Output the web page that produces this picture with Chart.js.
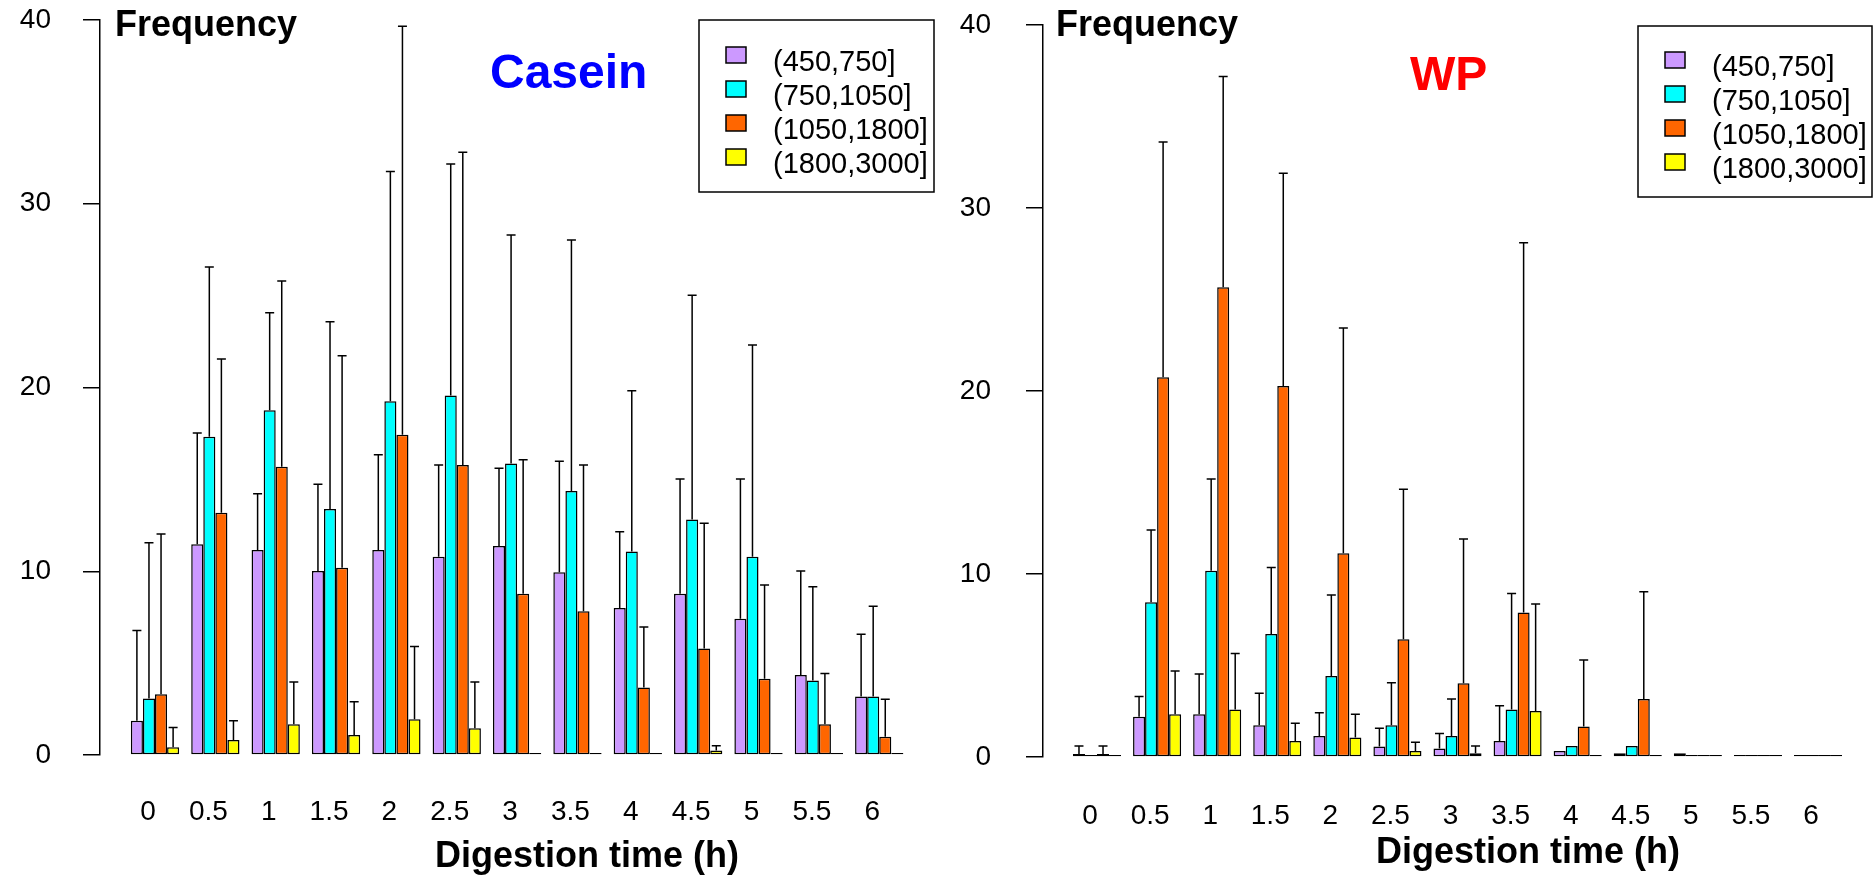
<!DOCTYPE html>
<html>
<head>
<meta charset="utf-8">
<title>Frequency by digestion time</title>
<script src="https://cdn.jsdelivr.net/npm/chart.js@4.4.0/dist/chart.umd.min.js"></script>
<style>
    html, body { margin: 0; padding: 0; background: #fff; }
    .panel { position: absolute; top: 0; width: 938px; height: 875px; }
    #left { left: 0; }
    #right { left: 938px; }
</style>
</head>
<body>
<div class="panel" id="left"><canvas id="caseinChart" width="938" height="875"></canvas></div>
<div class="panel" id="right"><canvas id="wpChart" width="938" height="875"></canvas></div>
<script>
const times = [0, 0.5, 1, 1.5, 2, 2.5, 3, 3.5, 4, 4.5, 5, 5.5, 6];
const timeLabels = ['0', '0.5', '1', '1.5', '2', '2.5', '3', '3.5', '4', '4.5', '5', '5.5', '6'];
const sizeClasses = ['(450,750]', '(750,1050]', '(1050,1800]', '(1800,3000]'];
const classColors = ['#cc99ff', '#00ffff', '#ff6600', '#ffff00'];

// Casein - mean frequency per size class
const casein450  = [1.87, 11.47, 11.16, 10.01, 11.16, 10.79, 11.37, 9.94, 8.0, 8.78, 7.42, 4.35, 3.19];
const casein750  = [3.08, 17.32, 18.76, 13.39, 19.25, 19.56, 15.87, 14.37, 11.07, 12.81, 10.79, 4.06, 3.19];
const casein1050 = [3.30, 13.19, 15.69, 10.19, 17.43, 15.78, 8.78, 7.82, 3.68, 5.79, 4.15, 1.67, 1.0];
const casein1800 = [0.42, 0.82, 1.67, 1.09, 1.94, 1.45, 0, 0, 0, 0.24, 0, 0, 0];
// Casein - top of error bars
const caseinTop450  = [6.77, 17.52, 14.22, 14.73, 16.34, 15.78, 15.6, 15.98, 12.15, 15.02, 15.02, 10.01, 6.57];
const caseinTop750  = [11.55, 26.56, 24.07, 23.58, 31.75, 32.16, 28.3, 28.03, 19.82, 25.02, 22.31, 9.16, 8.09];
const caseinTop1050 = [12.03, 21.55, 25.8, 21.73, 39.66, 32.8, 16.07, 15.78, 6.97, 12.61, 9.25, 4.44, 3.03];
const caseinTop1800 = [1.49, 1.87, 3.97, 2.90, 5.90, 3.97, null, null, null, 0.51, null, null, null];

// WP - mean frequency per size class
const wp450  = [0.16, 2.2, 2.33, 1.73, 1.15, 0.58, 0.47, 0.87, 0.33, 0.2, 0.2, 0, 0];
const wp750  = [0, 8.45, 10.18, 6.72, 4.43, 1.73, 1.15, 2.6, 0.6, 0.6, 0, 0, 0];
const wp1050 = [0.16, 20.75, 25.67, 20.27, 11.13, 6.43, 4.03, 7.89, 1.66, 3.17, 0, 0, 0];
const wp1800 = [0, 2.33, 2.6, 0.87, 1.07, 0.33, 0.2, 2.51, 0, 0, 0, 0, 0];
// WP - top of error bars
const wpTop450  = [0.6, 3.3, 4.54, 3.48, 2.42, 1.57, 1.29, 2.8, null, null, null, null, null];
const wpTop750  = [null, 12.4, 15.19, 10.36, 8.85, 4.06, 3.17, 8.94, null, null, null, null, null];
const wpTop1050 = [0.6, 33.6, 37.18, 31.9, 23.44, 14.63, 11.91, 28.1, 5.3, 9.03, null, null, null];
const wpTop1800 = [null, 4.7, 5.66, 1.84, 2.33, 0.8, 0.6, 8.36, null, null, null, null, null];

const FONT = "'Liberation Sans', Arial, Helvetica, sans-serif";

// error bars, titles and boxed legend
const panelDecor = {
    id: 'panelDecor',
    afterDatasetsDraw(chart) {
        const ctx = chart.ctx;
        const yScale = chart.scales.y;
        ctx.save();
        ctx.strokeStyle = '#000';
        ctx.lineWidth = 1.5;
        chart.data.datasets.forEach((ds, di) => {
            const meta = chart.getDatasetMeta(di);
            meta.data.forEach((bar, i) => {
                const top = ds.errTop[i];
                if (top === null || top === undefined) return;
                const yTop = yScale.getPixelForValue(top);
                ctx.beginPath();
                ctx.moveTo(bar.x, bar.y);
                ctx.lineTo(bar.x, yTop);
                ctx.moveTo(bar.x - 4.5, yTop);
                ctx.lineTo(bar.x + 4.5, yTop);
                ctx.stroke();
            });
        });
        ctx.restore();
    },
    afterDraw(chart, args, opts) {
        const ctx = chart.ctx;
        ctx.save();
        ctx.textBaseline = 'alphabetic';

        ctx.fillStyle = '#000';
        ctx.textAlign = 'left';
        ctx.font = 'bold 36px ' + FONT;
        ctx.fillText('Frequency', opts.freqX, opts.freqY);

        ctx.fillStyle = opts.titleColor;
        ctx.font = 'bold 48px ' + FONT;
        ctx.fillText(opts.title, opts.titleX, opts.titleY);

        ctx.fillStyle = '#000';
        ctx.textAlign = 'center';
        ctx.font = 'bold 36px ' + FONT;
        ctx.fillText('Digestion time (h)', opts.xTitleX, opts.xTitleY);

        // legend
        const [bx, by, bw, bh] = opts.legendBox;
        ctx.lineWidth = 1.5;
        ctx.strokeStyle = '#000';
        ctx.strokeRect(bx, by, bw, bh);
        ctx.textAlign = 'left';
        ctx.font = '29px ' + FONT;
        chart.data.datasets.forEach((ds, k) => {
            const sy = by + opts.legendTop + k * 34;
            ctx.fillStyle = ds.backgroundColor;
            ctx.fillRect(bx + 27, sy, 20, 16);
            ctx.strokeRect(bx + 27, sy, 20, 16);
            ctx.fillStyle = '#000';
            ctx.fillText(ds.label, bx + 74, sy + 23.5);
        });
        ctx.restore();
    }
};

function makeChart(canvasId, series, tops, panel) {
    return new Chart(document.getElementById(canvasId), {
        type: 'bar',
        data: {
            datasets: series.map((vals, k) => ({
                label: sizeClasses[k],
                data: times.map((t, i) => ({ x: t, y: vals[i] })),
                errTop: tops[k],
                backgroundColor: classColors[k],
                borderColor: '#000',
                borderWidth: 1.5,
                borderSkipped: false,
                minBarLength: 2,
                categoryPercentage: 0.8,
                barPercentage: 1.0
            }))
        },
        options: {
            responsive: false,
            animation: false,
            devicePixelRatio: 1,
            layout: { padding: { top: panel.padTop, right: panel.padRight, left: 0, bottom: 0 } },
            plugins: {
                legend: { display: false },
                tooltip: { enabled: false },
                panelDecor: panel
            },
            scales: {
                x: {
                    type: 'linear',
                    min: panel.xMin,
                    max: 6.4,
                    offset: false,
                    grid: { display: false, drawTicks: false },
                    border: { display: false },
                    ticks: {
                        stepSize: 0.5,
                        includeBounds: false,
                        autoSkip: false,
                        maxRotation: 0,
                        padding: panel.xTickPad,
                        labelOffset: -7,
                        color: '#000',
                        font: { family: FONT, size: 28 },
                        callback: (v) => {
                            const i = times.indexOf(v);
                            return i < 0 ? '' : timeLabels[i];
                        }
                    },
                    afterFit: (s) => {
                        s.height = panel.xAxisHeight;
                        s.paddingLeft = 0;
                        s.paddingRight = 0;
                    }
                },
                y: {
                    min: 0,
                    max: 40,
                    grid: { drawOnChartArea: false, tickLength: 17, color: '#000', lineWidth: 1.5 },
                    border: { display: true, color: '#000', width: 1.5 },
                    ticks: {
                        stepSize: 10,
                        padding: panel.yTickPad,
                        color: '#000',
                        font: { family: FONT, size: 28 }
                    },
                    afterFit: (s) => {
                        s.width = panel.yAxisWidth;
                        s.paddingTop = 0;
                        s.paddingBottom = 0;
                    }
                }
            }
        },
        plugins: [panelDecor]
    });
}

makeChart('caseinChart',
    [casein450, casein750, casein1050, casein1800],
    [caseinTop450, caseinTop750, caseinTop1050, caseinTop1800],
    {
        title: 'Casein', titleColor: '#0000ff', titleX: 490, titleY: 88,
        freqX: 115, freqY: 36,
        xTitleX: 587, xTitleY: 867,
        legendBox: [699, 20, 235, 172], legendTop: 27,
        padTop: 20, padRight: 10.5, xMin: -0.4557,
        xAxisHeight: 120, yAxisWidth: 100, xTickPad: 40, yTickPad: 32
    });

makeChart('wpChart',
    [wp450, wp750, wp1050, wp1800],
    [wpTop450, wpTop750, wpTop1050, wpTop1800],
    {
        title: 'WP', titleColor: '#ff0000', titleX: 472, titleY: 90,
        freqX: 118, freqY: 36,
        xTitleX: 590, xTitleY: 863,
        legendBox: [700, 26, 234, 171], legendTop: 26,
        padTop: 25, padRight: 9.9, xMin: -0.4494,
        xAxisHeight: 118, yAxisWidth: 105, xTickPad: 42, yTickPad: 35
    });
</script>
</body>
</html>
